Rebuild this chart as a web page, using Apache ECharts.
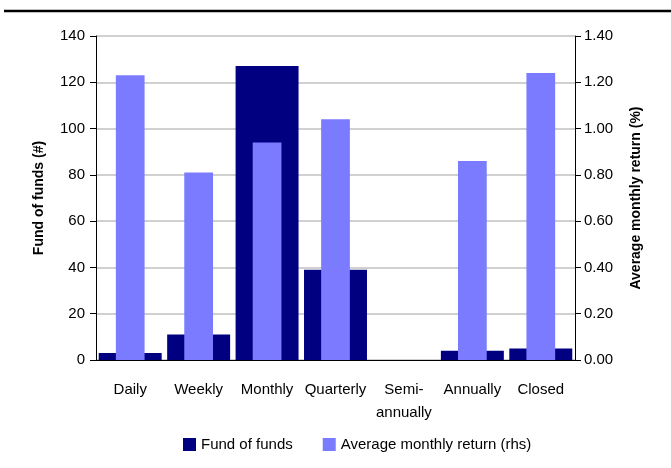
<!DOCTYPE html>
<html>
<head>
    <meta charset="UTF-8">
    <title>Fund of funds by redemption frequency</title>
    <script src="https://cdn.jsdelivr.net/npm/echarts@6/dist/echarts.min.js"></script>
    <style>
        html, body { margin: 0; padding: 0; background: #fff; }
        #chart { width: 671px; height: 468px; }
    </style>
</head>
<body>
<div id="chart"></div>
<script type="text/javascript">
    // data
    let categories = ['Daily', 'Weekly', 'Monthly', 'Quarterly', 'Semi-\nannually', 'Annually', 'Closed'];
    let fundCounts = [3, 11, 127, 39, 0, 4, 5];
    let avgReturns = [1.23, 0.81, 0.94, 1.04, null, 0.86, 1.24];
    let leftTicks = [0, 140, 20];
    let rightTicks = [0, 1.4, 0.2];

    let font = 'Liberation Sans, Arial, sans-serif';
    let chart = echarts.init(document.getElementById('chart'));

    let option = {
        animation: false,
        textStyle: { fontFamily: font },
        graphic: [{
            type: 'line',
            shape: { x1: 4, y1: 11, x2: 671, y2: 11 },
            style: { stroke: '#000', lineWidth: 2.5 }
        }],
        grid: { left: 96, right: 96, top: 36, bottom: 108 },
        legend: {
            top: 432,
            left: 178,
            itemWidth: 13,
            itemHeight: 13,
            itemGap: 30,
            icon: 'rect',
            textStyle: { fontFamily: font, fontSize: 15, color: '#000' },
            data: ['Fund of funds', 'Average monthly return (rhs)']
        },
        xAxis: [{
            type: 'category',
            data: categories,
            axisLine: { lineStyle: { color: '#000', width: 1 } },
            axisTick: { length: 6, interval: 0, lineStyle: { color: '#000' } },
            axisLabel: { interval: 0, color: '#000', fontSize: 15, margin: 18, lineHeight: 23, fontFamily: font }
        }, {
            type: 'category',
            data: categories,
            show: false
        }],
        yAxis: [{
            type: 'value',
            min: leftTicks[0],
            max: leftTicks[1],
            interval: leftTicks[2],
            name: 'Fund of funds (#)',
            nameLocation: 'middle',
            nameGap: 50,
            nameTextStyle: { fontSize: 14, fontWeight: 'bold', color: '#000', fontFamily: font },
            axisLine: { show: true, lineStyle: { color: '#000' } },
            axisTick: { show: true, length: 6, lineStyle: { color: '#000' } },
            axisLabel: { color: '#000', fontSize: 15, margin: 11, fontFamily: font },
            splitLine: { lineStyle: { color: '#c0c0c0', width: 1.5 } }
        }, {
            type: 'value',
            min: rightTicks[0],
            max: rightTicks[1],
            interval: rightTicks[2],
            name: 'Average monthly return (%)',
            nameLocation: 'middle',
            nameGap: 54,
            nameRotate: 90,
            nameTextStyle: { fontSize: 14, fontWeight: 'bold', color: '#000', fontFamily: font },
            axisLine: { show: true, lineStyle: { color: '#000' } },
            axisTick: { show: true, length: 6, lineStyle: { color: '#000' } },
            axisLabel: {
                color: '#000', fontSize: 15, margin: 9, fontFamily: font,
                formatter: function (v) { return v.toFixed(2); }
            },
            splitLine: { show: false }
        }],
        series: [{
            name: 'Fund of funds',
            type: 'bar',
            xAxisIndex: 0,
            yAxisIndex: 0,
            barWidth: '92%',
            itemStyle: { color: '#000080' },
            data: fundCounts
        }, {
            name: 'Average monthly return (rhs)',
            type: 'bar',
            xAxisIndex: 1,
            yAxisIndex: 1,
            barWidth: '42%',
            itemStyle: { color: '#7b7bff' },
            data: avgReturns
        }]
    };
    chart.setOption(option);
</script>
</body>
</html>
